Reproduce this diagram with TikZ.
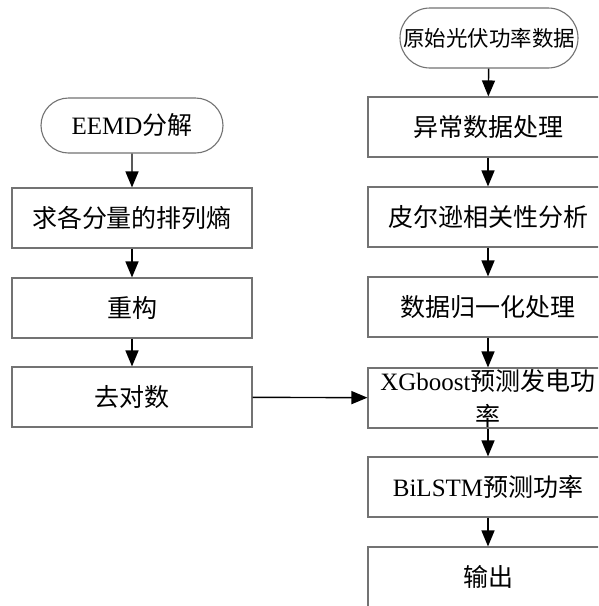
\documentclass[tikz,border=0pt]{standalone}
\usepackage{fontspec}
\setmainfont{Liberation Serif}
\newfontfamily\cjk{Noto Sans CJK SC}
\usetikzlibrary{arrows.meta,shapes.misc}
\tikzset{
  stepbox/.style={draw=black!55, line width=1.1pt, minimum width=240pt, minimum height=60pt, inner sep=0pt, align=center, font=\fontsize{25}{29}\selectfont},
  term/.style={draw=black!55, line width=1.1pt, rounded rectangle, inner sep=0pt, align=center, font=\fontsize{25}{29}\selectfont},
  flow/.style={draw=black, line width=1.4pt, -{Triangle[length=16pt,width=13pt]}}
}
\begin{document}
\begin{tikzpicture}[x=1pt,y=-1pt]
\useasboundingbox[clip] (0,0) rectangle (598,606);
\fill[white] (0,0) rectangle (598,606);
% right column
\node[term, minimum width=178pt, minimum height=60pt, font=\fontsize{21.5}{25}\selectfont] (t2) at (489,38) {\cjk 原始光伏功率数据};
\node[stepbox] (r1) at (488,127) {\cjk 异常数据处理};
\node[stepbox] (r2) at (488,217) {\cjk 皮尔逊相关性分析};
\node[stepbox] (r3) at (488,307) {\cjk 数据归一化处理};
\node[stepbox, font=\fontsize{25}{34}\selectfont] (r4) at (488,398) {XGboost{\cjk 预测发电功}\\[1pt]{\cjk 率}};
\node[stepbox] (r5) at (488,487) {BiLSTM{\cjk 预测功率}};
\node[stepbox] (r6) at (488,577) {\cjk 输出};
% left column
\node[term, minimum width=182pt, minimum height=55pt] (t1) at (132,125.5) {EEMD{\cjk 分解}};
\node[stepbox] (l1) at (132,218) {\cjk 求各分量的排列熵};
\node[stepbox] (l2) at (132,308) {\cjk 重构};
\node[stepbox] (l3) at (132,397) {\cjk 去对数};
% connectors
\draw[flow] (t2) -- (r1);
\draw[flow] (r1) -- (r2);
\draw[flow] (r2) -- (r3);
\draw[flow] (r3) -- (r4);
\draw[flow] (r4) -- (r5);
\draw[flow] (r5) -- (r6);
\draw[flow] (t1) -- (l1);
\draw[flow] (l1) -- (l2);
\draw[flow] (l2) -- (l3);
\draw[flow] (l3) -- (r4);
\end{tikzpicture}
\end{document}
